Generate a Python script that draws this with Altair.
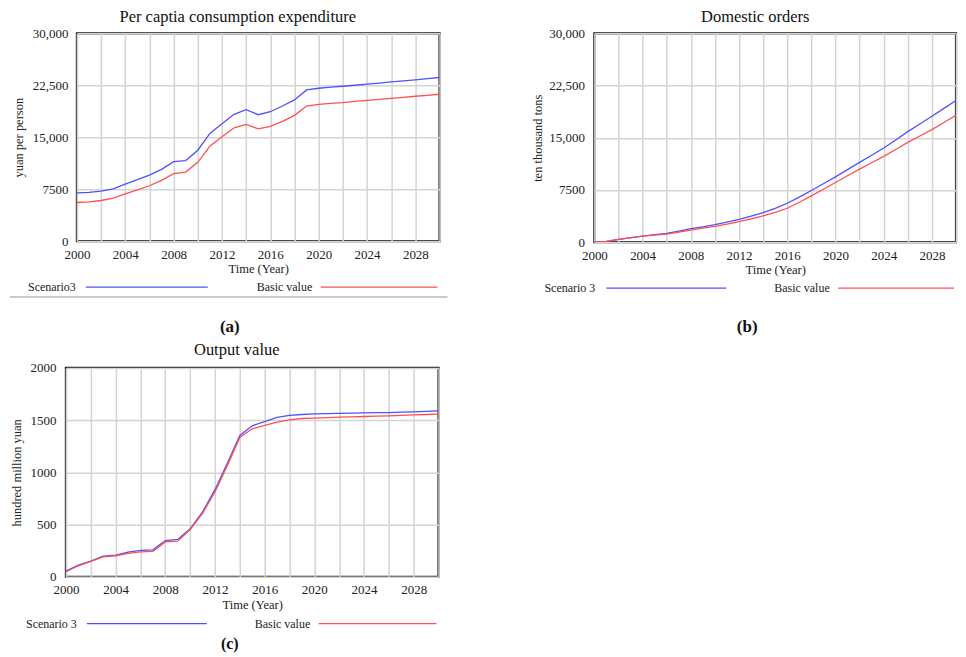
import altair as alt
import pandas as pd

YEARS = list(range(2000, 2031))
SERIES = ["Scenario 3", "Basic value"]
COLORS = ["#5050ff", "#ff5050"]

# (a) Per capita consumption expenditure (yuan per person)
A_S3 = [6950, 7020, 7210, 7550, 8230, 8860, 9530, 10360, 11470, 11620,
        13120, 15540, 16940, 18300, 18970, 18250, 18680, 19500, 20380, 21830,
        22070, 22220, 22360, 22500, 22650, 22820, 22990, 23140, 23280, 23450, 23620]
A_BV = [5570, 5660, 5860, 6200, 6820, 7400, 7990, 8760, 9730, 9970,
        11370, 13700, 15050, 16360, 16840, 16210, 16550, 17280, 18150, 19500,
        19750, 19870, 19990, 20160, 20330, 20470, 20620, 20760, 20910, 21050, 21200]

# (b) Domestic orders (ten thousand tons)
B_S3 = [0, 100, 380, 630, 870, 1060, 1250, 1580, 1920, 2200,
        2500, 2870, 3270, 3720, 4230, 4860, 5580, 6460, 7410, 8390,
        9380, 10420, 11450, 12480, 13520, 14680, 15870, 16980, 18090, 19210, 20350]
B_BV = [0, 100, 380, 620, 860, 1000, 1150, 1440, 1730, 2000,
        2260, 2590, 2930, 3330, 3750, 4270, 4860, 5720, 6640, 7600,
        8560, 9530, 10490, 11400, 12310, 13310, 14330, 15240, 16160, 17190, 18230]

# (c) Output value (hundred million yuan)
C_S3 = [54, 111, 150, 197, 207, 236, 252, 258, 347, 357,
        459, 621, 834, 1089, 1354, 1446, 1487, 1526, 1545, 1554,
        1561, 1562, 1564, 1567, 1570, 1572, 1573, 1576, 1580, 1585, 1589]
C_BV = [48, 105, 147, 191, 201, 223, 239, 242, 334, 341,
        452, 608, 812, 1067, 1334, 1417, 1449, 1481, 1503, 1516,
        1519, 1524, 1529, 1532, 1535, 1538, 1541, 1546, 1551, 1554, 1557]

TITLES = ["Per captia consumption expenditure", "Domestic orders", "Output value"]
YTITLES = ["yuan per person", "ten thousand tons", "hundred million yuan"]
LEG_A = ["Scenario3", "Basic value"]
LEG_BC = ["Scenario 3", "Basic value"]
CAPTIONS = ["(a)", "(b)", "(c)"]
Y_TICKS_BIG = [0, 7500, 15000, 22500, 30000]
Y_TICKS_SMALL = [0, 500, 1000, 1500, 2000]

FONT = "Liberation Serif"
NOSTROKE = alt.ViewBackground(stroke="transparent", strokeWidth=0)


def long_df(s3, bv):
    return pd.DataFrame({
        "year": YEARS * 2,
        "value": s3 + bv,
        "series": [SERIES[0]] * len(YEARS) + [SERIES[1]] * len(YEARS),
    })


def one(label):
    return pd.DataFrame({"label": [label]})


def text_at(label, x, y, size, weight="normal", align="left", color="#222"):
    return alt.Chart(one(label)).mark_text(
        align=align, baseline="middle", font=FONT, fontSize=size,
        fontWeight=weight, color=color
    ).encode(text="label:N", x=alt.value(x), y=alt.value(y))


def rule_at(label, x1, x2, y, color, width=1.3):
    return alt.Chart(one(label)).mark_rule(color=color, strokeWidth=width).encode(
        x=alt.value(x1), x2=alt.value(x2), y=alt.value(y))


def panel(df, title, ytitle, ydom, yticks, leg, cap, w, h, g):
    lines = alt.Chart(df).mark_line(strokeWidth=1.3, clip=True).encode(
        x=alt.X("year:Q",
                scale=alt.Scale(domain=[2000, 2030], nice=False, zero=False),
                axis=alt.Axis(values=list(range(2000, 2031, 2)), format="d",
                              labelExpr="datum.value % 4 == 0 ? datum.label : ''",
                              title="Time (Year)", labelPadding=7, titlePadding=1.5,
                              labelFlush=False, labelOverlap=False)),
        y=alt.Y("value:Q",
                scale=alt.Scale(domain=ydom, nice=False),
                axis=alt.Axis(values=yticks,
                              labelExpr="datum.value >= 10000 ? format(datum.value, ',') : format(datum.value, 'd')",
                              title=ytitle, labelPadding=g["lpad"], titlePadding=g["tpad"])),
        color=alt.Color("series:N", scale=alt.Scale(domain=SERIES, range=COLORS), legend=None),
        detail="series:N",
    )
    ly = g["ly"]
    layers = [
        lines,
        text_at(title, g["tx"], g["ty"], 16.5, align="center", color="#111"),
        text_at(leg[0], g["t1"], ly, 12),
        rule_at(leg[0], g["r1"][0], g["r1"][1], ly, COLORS[0]),
        text_at(leg[1], g["t2"], ly, 12),
        rule_at(leg[1], g["r2"][0], g["r2"][1], ly, COLORS[1]),
    ]
    if g.get("sep"):
        layers.append(rule_at("sep", g["sep"][0], g["sep"][1], g["sep"][2], "#b8b8b8", 1.5))
    layers.append(text_at(cap, g["cx"], g["cy"], g.get("cs", 17), weight="bold",
                          align="center", color="#111"))
    return alt.layer(*layers).properties(width=w, height=h)


def spacer(w):
    return alt.Chart(one("")).mark_point(opacity=0).encode(
        x=alt.value(0), y=alt.value(0)
    ).properties(width=w, height=10, view=NOSTROKE)


pa = panel(long_df(A_S3, A_BV), TITLES[0], YTITLES[0], [0, 30000], Y_TICKS_BIG, LEG_A, CAPTIONS[0],
           363, 208,
           dict(lpad=9, tpad=6.5, ly=254, t1=-49, r1=(9, 131), t2=180, r2=(244, 361),
                sep=(-67, 371, 264), cx=153, cy=294, tx=161, ty=-16))
pb = panel(long_df(B_S3, B_BV), TITLES[1], YTITLES[1], [0, 30000], Y_TICKS_BIG, LEG_BC, CAPTIONS[1],
           362, 209,
           dict(lpad=10, tpad=4.6, ly=255, t1=-50, r1=(12, 132), t2=180, r2=(244, 360),
                cx=153, cy=294, tx=161, ty=-16))
pc = panel(long_df(C_S3, C_BV), TITLES[2], YTITLES[2], [0, 2000], Y_TICKS_SMALL, LEG_BC, CAPTIONS[2],
           373, 209,
           dict(lpad=10, tpad=6.4, ly=256, t1=-40, r1=(21, 141), t2=189, r2=(253, 371),
                cx=164, cy=276, cs=16, tx=171, ty=-18))

row1 = alt.hconcat(spacer(11), pa, spacer(155), pb, spacing=0, bounds="flush")
chart = alt.vconcat(row1, pc, spacing=3, bounds="full")

chart = chart.properties(padding={"left": 0, "top": -1, "right": 0, "bottom": 0}).configure_view(
    stroke="#1a1a1a", strokeWidth=2.2
).configure_axis(
    grid=True, gridColor="#d4d4d4", gridWidth=1.5, domain=False, ticks=False,
    labelFont=FONT, labelFontSize=13, labelColor="#222",
    titleFont=FONT, titleFontSize=12.5, titleFontWeight="normal", titleColor="#222",
)

chart.save("out.html", embed_options={"renderer": "svg", "actions": False})
